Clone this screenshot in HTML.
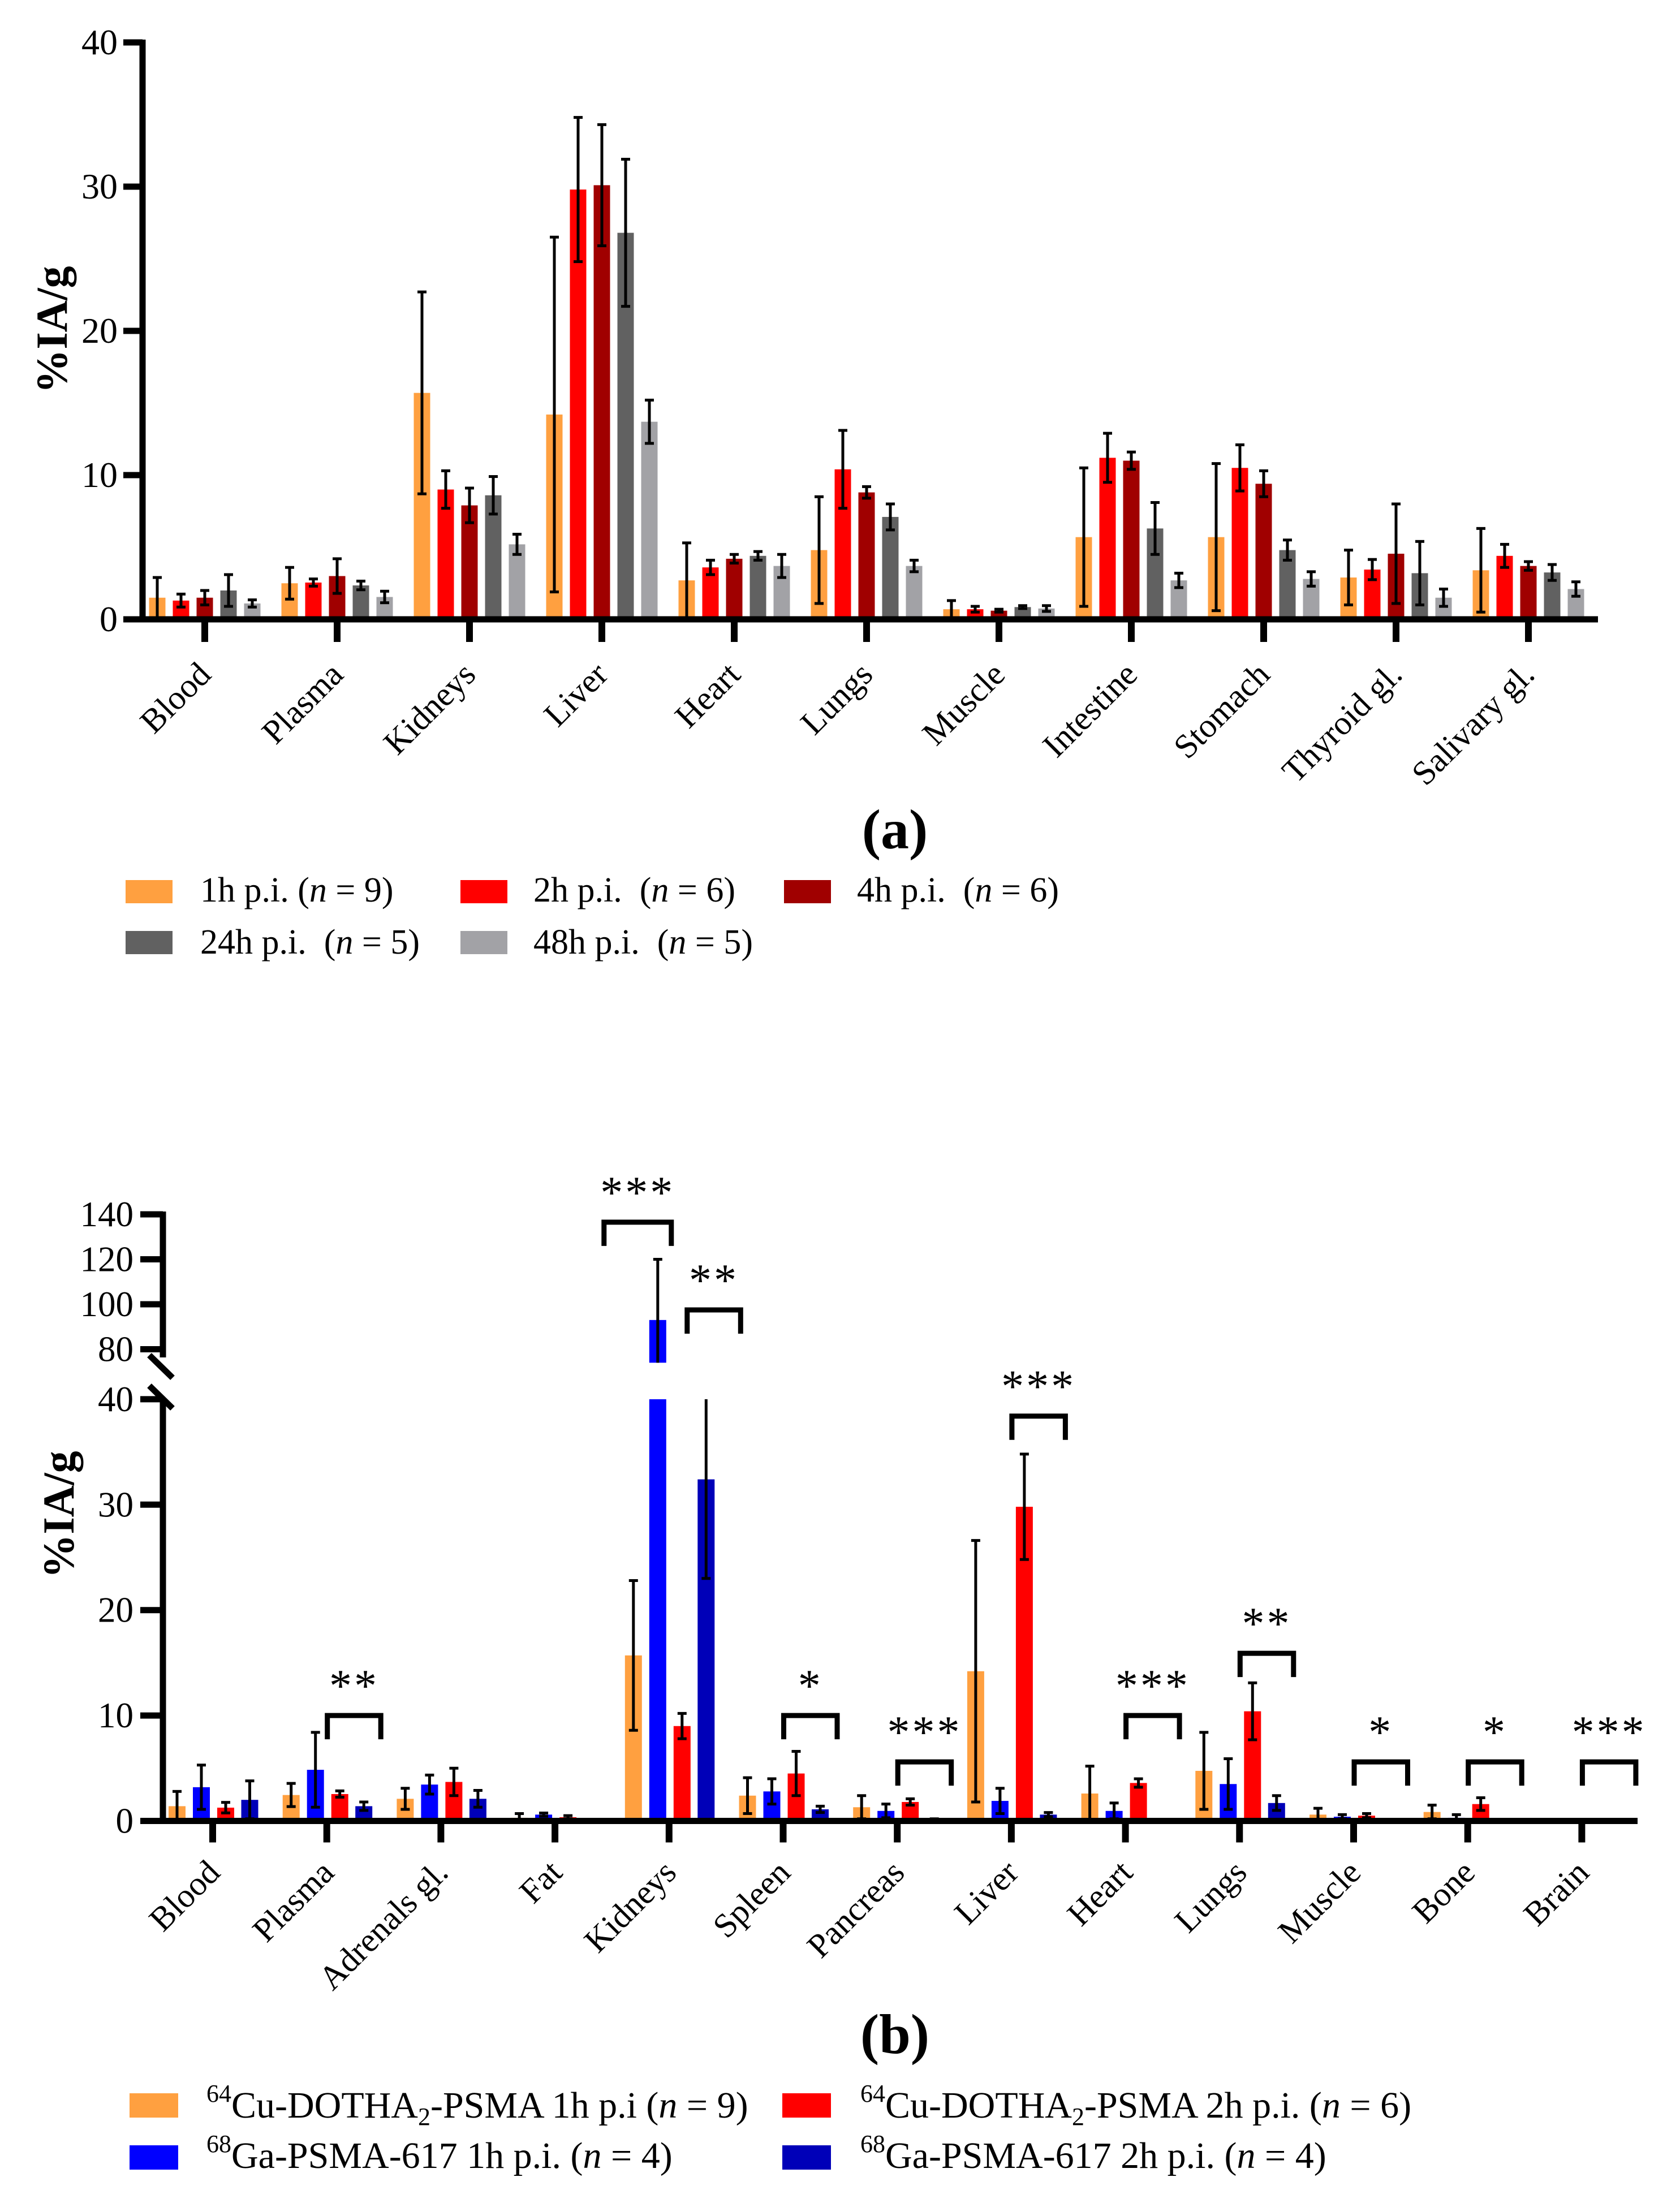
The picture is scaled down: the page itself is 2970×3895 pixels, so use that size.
<!DOCTYPE html>
<html><head><meta charset="utf-8">
<style>
html,body{margin:0;padding:0;background:#fff;}
svg{display:block;font-family:"Liberation Serif","Times New Roman",serif;}
svg text{font-family:"Liberation Serif","Times New Roman",serif;}
</style></head>
<body>
<svg id="fig" xmlns="http://www.w3.org/2000/svg" width="2970" height="3895" viewBox="0 0 2970 3895">
<rect x="0" y="0" width="2970" height="3895" fill="#fff"/>
<g id="chartA"></g>
<g id="chartB"></g>

<text x="1582" y="1500" font-size="100" font-weight="bold" text-anchor="middle">(a)</text>
<text x="1582" y="3630" font-size="100" font-weight="bold" text-anchor="middle">(b)</text>

<g font-size="62">
  <g><rect x="222" y="1556" width="83" height="41" fill="#FFA040"/><text x="354" y="1594">1h p.i. (<tspan font-style="italic">n</tspan> = 9)</text></g>
  <g><rect x="814" y="1556" width="83" height="41" fill="#FF0000"/><text x="943" y="1594">2h p.i.&#160; (<tspan font-style="italic">n</tspan> = 6)</text></g>
  <g><rect x="1386" y="1556" width="83" height="41" fill="#A00000"/><text x="1515" y="1594">4h p.i.&#160; (<tspan font-style="italic">n</tspan> = 6)</text></g>
  <g><rect x="222" y="1646" width="83" height="41" fill="#616161"/><text x="354" y="1686">24h p.i.&#160; (<tspan font-style="italic">n</tspan> = 5)</text></g>
  <g><rect x="814" y="1646" width="83" height="41" fill="#A2A2A6"/><text x="943" y="1686">48h p.i.&#160; (<tspan font-style="italic">n</tspan> = 5)</text></g>
</g>

<g font-size="66">
  <g><rect x="229" y="3701" width="86" height="43" fill="#FFA040"/><text x="365" y="3744"><tspan font-size="44" dy="-28">64</tspan><tspan dy="28">Cu-DOTHA</tspan><tspan font-size="44" dy="13">2</tspan><tspan dy="-13">-PSMA 1h p.i (</tspan><tspan font-style="italic">n</tspan> = 9)</text></g>
  <g><rect x="1383" y="3701" width="86" height="43" fill="#FF0000"/><text x="1521" y="3744"><tspan font-size="44" dy="-28">64</tspan><tspan dy="28">Cu-DOTHA</tspan><tspan font-size="44" dy="13">2</tspan><tspan dy="-13">-PSMA 2h p.i. (</tspan><tspan font-style="italic">n</tspan> = 6)</text></g>
  <g><rect x="229" y="3793" width="86" height="43" fill="#0000FF"/><text x="365" y="3833"><tspan font-size="44" dy="-28">68</tspan><tspan dy="28">Ga-PSMA-617 1h p.i. (</tspan><tspan font-style="italic">n</tspan> = 4)</text></g>
  <g><rect x="1383" y="3793" width="86" height="43" fill="#0000B8"/><text x="1521" y="3833"><tspan font-size="44" dy="-28">68</tspan><tspan dy="28">Ga-PSMA-617 2h p.i. (</tspan><tspan font-style="italic">n</tspan> = 4)</text></g>
</g>
</svg>

<script>
// ---------- Chart A data ----------
const catsA = ["Blood","Plasma","Kidneys","Liver","Heart","Lungs","Muscle","Intestine","Stomach","Thyroid gl.","Salivary gl."];
const a1h  = [1.5, 2.5, 15.7, 14.2, 2.7, 4.8, 0.7, 5.7, 5.7, 2.9, 3.4];
const a1hE = [1.4, 1.1, 7.0, 12.3, 2.6, 3.7, 0.6, 4.8, 5.1, 1.9, 2.9];
const a2h  = [1.3, 2.55, 9.0, 29.8, 3.6, 10.4, 0.7, 11.2, 10.5, 3.45, 4.4];
const a2hE = [0.45, 0.25, 1.3, 5.0, 0.5, 2.7, 0.2, 1.7, 1.6, 0.7, 0.8];
const a4h  = [1.5, 3.0, 7.9, 30.1, 4.2, 8.8, 0.6, 11.0, 9.4, 4.55, 3.7];
const a4hE = [0.5, 1.2, 1.2, 4.2, 0.3, 0.4, 0.1, 0.6, 0.9, 3.45, 0.3];
const a24h  = [2.0, 2.35, 8.6, 26.8, 4.4, 7.1, 0.85, 6.3, 4.8, 3.2, 3.25];
const a24hE = [1.1, 0.3, 1.3, 5.1, 0.3, 0.9, 0.1, 1.8, 0.7, 2.2, 0.55];
const a48h  = [1.1, 1.55, 5.2, 13.7, 3.7, 3.7, 0.75, 2.7, 2.8, 1.5, 2.1];
const a48hE = [0.25, 0.4, 0.7, 1.5, 0.8, 0.4, 0.2, 0.5, 0.5, 0.6, 0.5];
const ticksA = [0, 10, 20, 30, 40];

// ---------- Chart B data ----------
const catsB = ["Blood","Plasma","Adrenals gl.","Fat","Kidneys","Spleen","Pancreas","Liver","Heart","Lungs","Muscle","Bone","Brain"];
const bCu1h  = [1.4, 2.46, 2.1, 0.3, 15.7, 2.4, 1.3, 14.2, 2.6, 4.75, 0.6, 0.85, 0.1];
const bCu1hE = [1.4, 1.1, 1.0, 0.4, 7.1, 1.7, 1.1, 12.4, 2.6, 3.65, 0.6, 0.65, 0.05];
const bGa1h  = [3.2, 4.85, 3.45, 0.6, 93, 2.8, 0.95, 1.9, 0.95, 3.5, 0.4, 0.3, 0.05];
const bGa1hE = [2.1, 3.55, 0.9, 0.15, 27, 1.2, 0.65, 1.2, 0.75, 2.4, 0.2, 0.3, 0.03];
const bCu2h  = [1.26, 2.55, 3.7, 0.35, 9.0, 4.5, 1.8, 29.8, 3.6, 10.4, 0.5, 1.6, 0.1];
const bCu2hE = [0.5, 0.3, 1.3, 0.15, 1.2, 2.1, 0.3, 5.0, 0.4, 2.7, 0.2, 0.6, 0.03];
const bGa2h  = [2.0, 1.4, 2.1, 0.1, 32.4, 1.1, 0.15, 0.6, 0.1, 1.7, 0.05, 0.05, 0.05];
const bGa2hE = [1.8, 0.4, 0.8, 0.05, 9.4, 0.3, 0.05, 0.2, 0.05, 0.7, 0.02, 0.02, 0.02];
const ticksBLow = [0, 10, 20, 30, 40];
const ticksBHigh = [80, 100, 120, 140];
// significance brackets: category index, group from, group to, bracket height value, label
const sigCat = [1, 4, 4, 5, 6, 7, 8, 9, 10, 11, 12];
const sigLabel = ["**","***","**","*","***","***","***","**","*","*","***"];
const sigVal = [10, 136.5, 97.5, 10, 5.6, 38.4, 10, 15.9, 5.6, 5.6, 5.6];
const sigLeft = [2, 0, 2, 2, 2, 2, 2, 2, 2, 2, 2];
const sigRight = [3, 1, 3, 3, 3, 3, 3, 3, 3, 3, 3];

const NS = "http://www.w3.org/2000/svg";
function mk(tag, attrs, parent) {
  const e = document.createElementNS(NS, tag);
  for (const k in attrs) e.setAttribute(k, attrs[k]);
  parent.appendChild(e);
  return e;
}

// ===== Chart A =====
(function(){
  const g = document.getElementById("chartA");
  const y0 = 1095, pxPerUnit = 25.5;
  const yA = v => y0 - v * pxPerUnit;
  const xA = i => 362 + i * 234;
  const offs = [-84, -42, 0, 42, 84];
  const bw = 29;
  const series = [a1h, a2h, a4h, a24h, a48h];
  const errs = [a1hE, a2hE, a4hE, a24hE, a48hE];
  const colors = ["#FFA040", "#FF0000", "#A00000", "#616161", "#A2A2A6"];
  const snames = ["1h", "2h", "4h", "24h", "48h"];
  for (let s = 0; s < series.length; s++) {
    for (let i = 0; i < catsA.length; i++) {
      const v = series[s][i], cx = xA(i) + offs[s];
      const r = mk("rect", {x: cx - bw/2, y: yA(v), width: bw, height: y0 - yA(v), fill: colors[s]}, g);
      
      
    }
  }
  for (let s = 0; s < series.length; s++) {
    for (let i = 0; i < catsA.length; i++) {
      const v = series[s][i], e = errs[s][i], cx = xA(i) + offs[s];
      const hi = yA(v + e), lo = yA(Math.max(0, v - e));
      const eg = mk("g", {stroke: "#000", "stroke-width": 5}, g);
      
      
      mk("line", {x1: cx, x2: cx, y1: hi, y2: lo}, eg);
      mk("line", {x1: cx - 8, x2: cx + 8, y1: hi, y2: hi}, eg);
      mk("line", {x1: cx - 8, x2: cx + 8, y1: lo, y2: lo}, eg);
    }
  }
  const ax = mk("line", {x1: 252, x2: 252, y1: 70, y2: 1100, stroke: "#000", "stroke-width": 11}, g);
  
  
  const xl = mk("line", {x1: 247, x2: 2825, y1: y0, y2: y0, stroke: "#000", "stroke-width": 11}, g);
  
  
  for (const t of ticksA) {
    mk("line", {x1: 218, x2: 252, y1: yA(t), y2: yA(t), stroke: "#000", "stroke-width": 11}, g);
    const tl = mk("text", {x: 208, y: yA(t) + 21, "font-size": 64, "text-anchor": "end"}, g);
    tl.textContent = t;
    
    
  }
  for (let i = 0; i < catsA.length; i++) {
    mk("line", {x1: xA(i), x2: xA(i), y1: y0, y2: y0 + 40, stroke: "#000", "stroke-width": 12}, g);
    const lx = xA(i) + 14, ly = 1196;
    const tl = mk("text", {x: lx, y: ly, "font-size": 60, "text-anchor": "end", transform: "rotate(-45 " + lx + " " + ly + ")"}, g);
    tl.textContent = catsA[i];
    
    
  }
  const yt = mk("text", {x: 0, y: 0, "font-size": 78, "font-weight": "bold", "text-anchor": "middle", transform: "translate(118 583) rotate(-90)"}, g);
  yt.textContent = "%IA/g";
  
  
})();

// ===== Chart B =====
(function(){
  const g = document.getElementById("chartB");
  const y0 = 3219.5, pxLow = 18.64;
  const yHigh80 = 2385.5, pxHigh = 3.975;
  const segTop = 40, segHighBottom = 74;
  const yB = v => v <= segTop ? y0 - v * pxLow : yHigh80 - (v - 80) * pxHigh;
  const xB = i => 376 + i * 201.7;
  const offs = [-63, -20, 23, 65.5];
  const bw = 30;
  const series = [bCu1h, bGa1h, bCu2h, bGa2h];
  const errs = [bCu1hE, bGa1hE, bCu2hE, bGa2hE];
  const colors = ["#FFA040", "#0000FF", "#FF0000", "#0000B8"];
  const snames = ["cu-1h", "ga-1h", "cu-2h", "ga-2h"];
  for (let s = 0; s < series.length; s++) {
    for (let i = 0; i < catsB.length; i++) {
      const v = series[s][i], cx = xB(i) + offs[s];
      const top = Math.min(v, segTop);
      const r = mk("rect", {x: cx - bw/2, y: yB(top), width: bw, height: y0 - yB(top), fill: colors[s]}, g);
      
      
      if (v > segHighBottom) {
        const r2 = mk("rect", {x: cx - bw/2, y: yB(v), width: bw, height: yB(segHighBottom) - yB(v), fill: colors[s]}, g);
        
        
      }
    }
  }
  for (let s = 0; s < series.length; s++) {
    for (let i = 0; i < catsB.length; i++) {
      const v = series[s][i], e = errs[s][i], cx = xB(i) + offs[s];
      let hiV = v + e, loV = Math.max(0, v - e);
      const eg = mk("g", {stroke: "#000", "stroke-width": 5}, g);
      
      
      if (v > segHighBottom) {
        const lo2 = Math.max(loV, segHighBottom);
        mk("line", {x1: cx, x2: cx, y1: yB(hiV), y2: yB(lo2)}, eg);
        mk("line", {x1: cx - 8, x2: cx + 8, y1: yB(hiV), y2: yB(hiV)}, eg);
      } else {
        const hiC = Math.min(hiV, segTop);
        mk("line", {x1: cx, x2: cx, y1: yB(hiC), y2: yB(loV)}, eg);
        if (hiV <= segTop) mk("line", {x1: cx - 8, x2: cx + 8, y1: yB(hiV), y2: yB(hiV)}, eg);
        mk("line", {x1: cx - 8, x2: cx + 8, y1: yB(loV), y2: yB(loV)}, eg);
      }
    }
  }
  const ay1 = mk("line", {x1: 288, x2: 288, y1: 2142, y2: 2400, stroke: "#000", "stroke-width": 11}, g);
  
  
  const ay2 = mk("line", {x1: 288, x2: 288, y1: 2475, y2: 3225, stroke: "#000", "stroke-width": 11}, g);
  
  
  const br1 = mk("line", {x1: 264, y1: 2396, x2: 305, y2: 2436, stroke: "#000", "stroke-width": 11}, g);
  
  
  const br2 = mk("line", {x1: 264, y1: 2450, x2: 305, y2: 2490, stroke: "#000", "stroke-width": 11}, g);
  
  
  const xl = mk("line", {x1: 248, x2: 2895, y1: y0, y2: y0, stroke: "#000", "stroke-width": 11}, g);
  
  
  for (const t of ticksBLow.concat(ticksBHigh)) {
    mk("line", {x1: 248, x2: 288, y1: yB(t), y2: yB(t), stroke: "#000", "stroke-width": 11}, g);
    const tl = mk("text", {x: 236, y: yB(t) + 21, "font-size": 63, "text-anchor": "end"}, g);
    tl.textContent = t;
    
    
  }
  for (let i = 0; i < catsB.length; i++) {
    mk("line", {x1: xB(i), x2: xB(i), y1: y0, y2: y0 + 38, stroke: "#000", "stroke-width": 12}, g);
    const lx = xB(i) + 16, ly = 3314;
    const tl = mk("text", {x: lx, y: ly, "font-size": 60, "text-anchor": "end", transform: "rotate(-45 " + lx + " " + ly + ")"}, g);
    tl.textContent = catsB[i];
    
    
  }
  for (let k = 0; k < sigCat.length; k++) {
    let xl1 = xB(sigCat[k]) + offs[sigLeft[k]] - 22;
    let xr1 = xB(sigCat[k]) + offs[sigRight[k]] + 30;
    if (sigLeft[k] === 0) { xl1 -= 30; xr1 -= 6; }
    if (sigCat[k] === 4 && sigLeft[k] === 2) { xl1 += 31; xr1 += 31; }
    const yt = yB(sigVal[k]);
    const bg = mk("g", {}, g);
    
    
    mk("path", {d: "M" + xl1 + " " + (yt + 42) + " V" + yt + " H" + xr1 + " V" + (yt + 42), fill: "none", stroke: "#000", "stroke-width": 9}, bg);
    const st = mk("text", {x: (xl1 + xr1) / 2, y: yt - 26, "font-size": 80, "font-family": "Liberation Sans, sans-serif", "text-anchor": "middle", "letter-spacing": "4"}, bg);
    st.textContent = sigLabel[k];
    
    
  }
  const yt = mk("text", {x: 0, y: 0, "font-size": 78, "font-weight": "bold", "text-anchor": "middle", transform: "translate(130 2678) rotate(-90)"}, g);
  yt.textContent = "%IA/g";
  
  
})();
</script>
</body></html>
